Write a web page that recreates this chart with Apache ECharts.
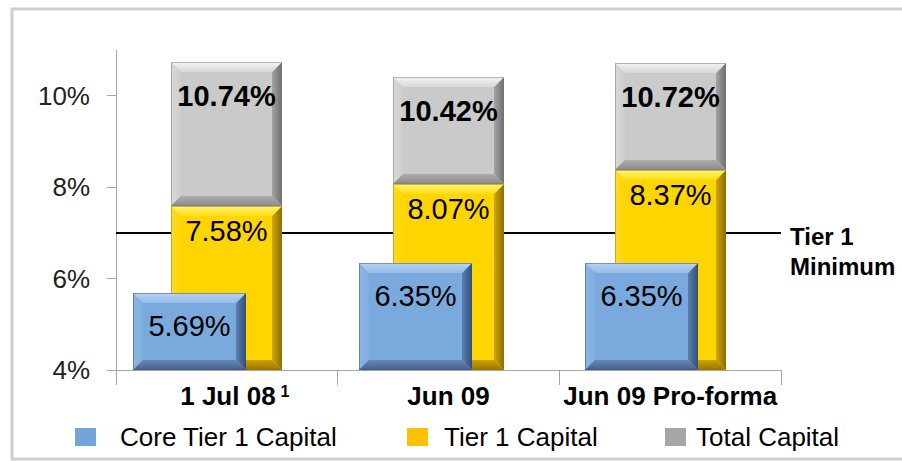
<!DOCTYPE html>
<html><head><meta charset="utf-8">
<script src="https://cdn.jsdelivr.net/npm/echarts@6/dist/echarts.min.js"></script>
<style>html,body{margin:0;padding:0;background:#fff}#c{width:902px;height:461px}</style>
</head><body><div id="c"></div>
<script>
const categories = ['1 Jul 08', 'Jun 09', 'Jun 09 Pro-forma'];
const footnotes = ['1', '', ''];
const coreTier1 = [5.69, 6.35, 6.35];
const tier1 = [7.58, 8.07, 8.37];
const totalCapital = [10.74, 10.42, 10.72];
const tier1Minimum = 7;
const yTicks = [4, 6, 8, 10];
const seriesNames = ['Core Tier 1 Capital', 'Tier 1 Capital', 'Total Capital'];

const BASE = 4;
const FONT = '"Liberation Sans", Arial, sans-serif';

function lg(x, y, x2, y2, c1, c2) {
  return { type: 'linear', x: x, y: y, x2: x2, y2: y2, colorStops: [{ offset: 0, color: c1 }, { offset: 1, color: c2 }] };
}

function bevelRenderer(pal, labelOpts) {
  return function (params, api) {
    const idx = api.value(0);
    const val = api.value(1);
    const low = api.value(2);
    const pTop = api.coord([idx, val]);
    const pBot = api.coord([idx, low]);
    const band = api.size([1, 0])[0];
    const w = band * 0.5;
    const x0 = Math.round(pTop[0] - w / 2), x1 = Math.round(pTop[0] + w / 2);
    const y0 = Math.round(pTop[1]), y1 = Math.round(pBot[1]);
    const b = 10;
    const children = [
      { type: 'rect', shape: { x: x0, y: y0, width: x1 - x0, height: y1 - y0 }, style: { fill: pal.face } },
      { type: 'polygon', shape: { points: [[x0, y0], [x0 + b, y0 + b], [x0 + b, y1 - b], [x0, y1]] }, style: { fill: lg(0, 0, 1, 0, pal.left[0], pal.left[1]) } },
      { type: 'polygon', shape: { points: [[x1, y0], [x1, y1], [x1 - b, y1 - b], [x1 - b, y0 + b]] }, style: { fill: lg(0, 0, 1, 0, pal.right[0], pal.right[1]) } },
      { type: 'polygon', shape: { points: [[x0, y1], [x0 + b, y1 - b], [x1 - b, y1 - b], [x1, y1]] }, style: { fill: lg(0, 0, 0, 1, pal.bottom[0], pal.bottom[1]) } },
      { type: 'polygon', shape: { points: [[x0, y0], [x1, y0], [x1 - b, y0 + b], [x0 + b, y0 + b]] }, style: { fill: lg(0, 0, 0, 1, pal.top[0], pal.top[1]) } },
      { type: 'rect', shape: { x: x0 + 0.5, y: y0 + 0.5, width: x1 - x0 - 1, height: y1 - y0 - 1 }, style: { fill: 'none', stroke: pal.edge, lineWidth: 1 } },
      { type: 'text', style: { text: val.toFixed(2) + '%', x: (x0 + x1) / 2, y: y0 + labelOpts.dy, align: 'center', verticalAlign: 'middle', fontFamily: FONT, fontSize: 29, fontWeight: labelOpts.weight, fill: '#000' } }
    ];
    return { type: 'group', children: children };
  };
}

const grayPal = { face: '#cacaca', top: ['#f4f4f4', '#d8d8d8'], left: ['#d8d8d8', '#cdcdcd'], right: ['#a4a4a4', '#6e6e6e'], bottom: ['#adadad', '#8a8a8a'], edge: 'rgba(120,120,120,0.5)' };
const yellowPal = { face: '#ffd500', top: ['#fff27a', '#ffdf10'], left: ['#ffdc28', '#ffd500'], right: ['#d2a800', '#8a6c00'], bottom: ['#cca200', '#977700'], edge: 'rgba(150,120,0,0.5)' };
const bluePal = { face: '#7aaadd', top: ['#b8d3f1', '#92bbe8'], left: ['#8cb6e3', '#7eaddf'], right: ['#5a80ad', '#34507a'], bottom: ['#6688b1', '#45618a'], edge: 'rgba(50,80,120,0.5)' };

const option = {
  animation: false,
  backgroundColor: '#fff',
  graphic: [{ type: 'rect', shape: { x: 12, y: 9, width: 900, height: 450 }, style: { fill: 'none', stroke: '#cfcfcf', lineWidth: 3 }, z: -10, silent: true }],
  grid: [
    { left: 116, right: 121, top: 50, bottom: 91 },
    { left: 76, right: 148, top: 50, bottom: 91 }
  ],
  xAxis: [
    {
      type: 'category', gridIndex: 0, data: categories,
      axisLine: { lineStyle: { color: '#a6a6a6', width: 1 } },
      axisTick: { show: true, interval: 0, length: 15, lineStyle: { color: '#a6a6a6' } },
      axisLabel: {
        interval: 0, margin: 13, color: '#000', fontFamily: FONT, fontSize: 26, fontWeight: 'bold',
        formatter: function (v, i) { return footnotes[i] ? '{a|' + v + '}{sup|' + footnotes[i] + '}' : v; },
        rich: {
          a: { fontFamily: FONT, fontSize: 26, fontWeight: 'bold', color: '#000', padding: [0, 0, 0, 16] },
          sup: { fontFamily: FONT, fontSize: 16, fontWeight: 'bold', color: '#000', verticalAlign: 'top', padding: [0, 0, 10, 5] }
        }
      }
    },
    { type: 'category', gridIndex: 1, data: categories, show: false }
  ],
  yAxis: [
    {
      type: 'value', gridIndex: 0, min: 4, max: 11, interval: 2,
      splitLine: { show: false },
      axisLine: { show: true, lineStyle: { color: '#a6a6a6', width: 1 } },
      axisTick: { show: true, length: 9, lineStyle: { color: '#a6a6a6' }, customValues: yTicks },
      axisLabel: { customValues: yTicks, margin: 26, color: '#222', fontFamily: FONT, fontSize: 26, formatter: function (v) { return v + '%'; } }
    },
    { type: 'value', gridIndex: 1, min: 4, max: 11, show: false, splitLine: { show: false } }
  ],
  legend: [
    { data: [seriesNames[0]], left: 75, top: 424, padding: 0, itemWidth: 21, itemHeight: 18, icon: 'rect', textStyle: { fontFamily: FONT, fontSize: 26, color: '#000', padding: [0, 0, 0, 19] } },
    { data: [seriesNames[1]], left: 407, top: 424, padding: 0, itemWidth: 21, itemHeight: 18, icon: 'rect', textStyle: { fontFamily: FONT, fontSize: 26, color: '#000', padding: [0, 0, 0, 11] } },
    { data: [seriesNames[2]], left: 665, top: 424, padding: 0, itemWidth: 21, itemHeight: 18, icon: 'rect', textStyle: { fontFamily: FONT, fontSize: 26, color: '#000', padding: [0, 0, 0, 5] } }
  ],
  series: [
    {
      name: 'Tier 1 Minimum', type: 'line', xAxisIndex: 0, yAxisIndex: 0, data: [], z: 1, silent: true,
      markLine: {
        z: 1, silent: true, symbol: ['none', 'none'], animation: false,
        lineStyle: { color: '#000', width: 2, type: 'solid' },
        emphasis: { disabled: true },
        label: {
          show: true, position: 'end', distance: 9,
          formatter: '{g| }\n{t|Tier 1}\n{t|Minimum}',
          rich: {
            g: { fontSize: 10, lineHeight: 37 },
            t: { fontFamily: FONT, fontSize: 24, fontWeight: 'bold', color: '#000', lineHeight: 30, align: 'left' }
          }
        },
        data: [{ yAxis: tier1Minimum }]
      }
    },
    {
      name: seriesNames[2], type: 'custom', xAxisIndex: 0, yAxisIndex: 0, z: 3,
      itemStyle: { color: '#a6a6a6' },
      encode: { x: 0, y: [1, 2] },
      data: totalCapital.map(function (v, i) { return [i, v, tier1[i]]; }),
      renderItem: bevelRenderer(grayPal, { dy: 34, weight: 'bold' })
    },
    {
      name: seriesNames[1], type: 'custom', xAxisIndex: 0, yAxisIndex: 0, z: 4,
      itemStyle: { color: '#ffc000' },
      encode: { x: 0, y: [1, 2] },
      data: tier1.map(function (v, i) { return [i, v, BASE]; }),
      renderItem: bevelRenderer(yellowPal, { dy: 25, weight: 'normal' })
    },
    {
      name: seriesNames[0], type: 'custom', xAxisIndex: 1, yAxisIndex: 1, z: 5,
      itemStyle: { color: '#75a4d8' },
      encode: { x: 0, y: [1, 2] },
      data: coreTier1.map(function (v, i) { return [i, v, BASE]; }),
      renderItem: bevelRenderer(bluePal, { dy: 33, weight: 'normal' })
    }
  ]
};

const chart = echarts.init(document.getElementById('c'), null, { renderer: 'svg', width: 902, height: 461 });
chart.setOption(option);
</script>
</body></html>
